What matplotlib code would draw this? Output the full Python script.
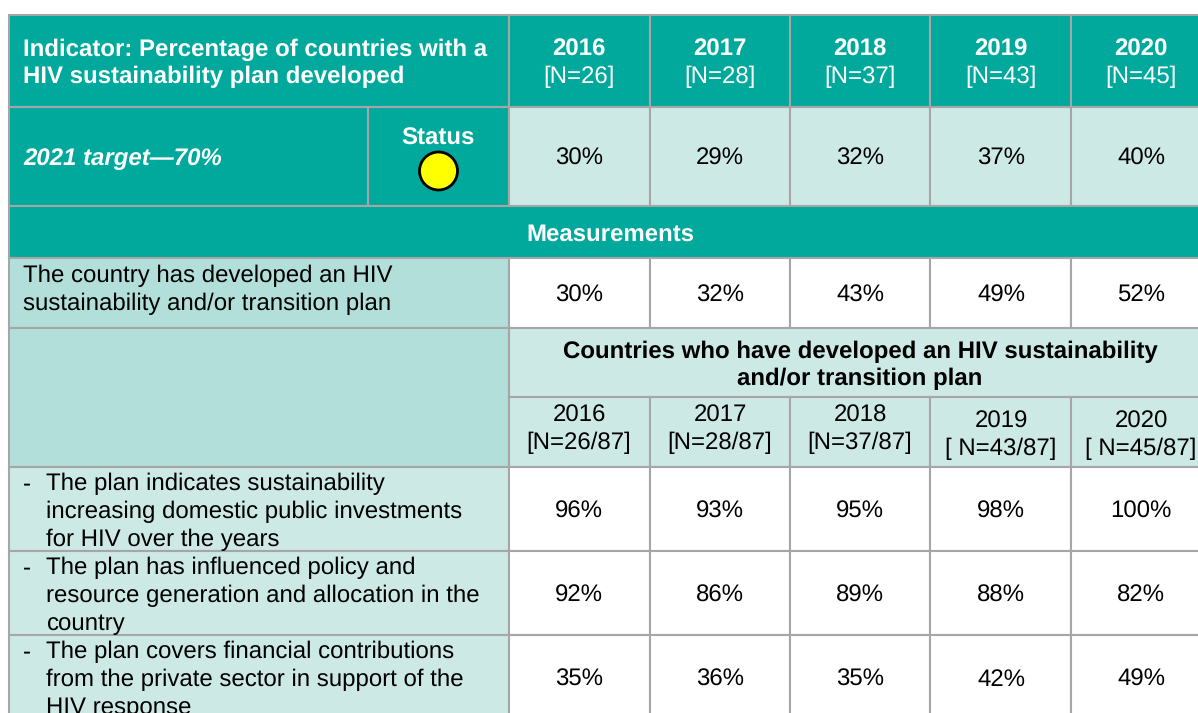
import matplotlib
matplotlib.use("Agg")
import matplotlib.pyplot as plt
from matplotlib.patches import Rectangle, Ellipse

plt.rcParams['font.family'] = ['Liberation Sans', 'DejaVu Sans']
plt.rcParams['text.hinting'] = 'no_hinting'
plt.rcParams['text.hinting_factor'] = 1

years = ['2016', '2017', '2018', '2019', '2020']
n_labels = ['[N=26]', '[N=28]', '[N=37]', '[N=43]', '[N=45]']
sub_labels = ['[N=26/87]', '[N=28/87]', '[N=37/87]', '[ N=43/87]', '[ N=45/87]']
overall = ['30%', '29%', '32%', '37%', '40%']
developed = ['30%', '32%', '43%', '49%', '52%']
row_a = ['96%', '93%', '95%', '98%', '100%']
row_b = ['92%', '86%', '89%', '88%', '82%']
row_c = ['35%', '36%', '35%', '42%', '49%']
row_a_label = ['The plan indicates sustainability', 'increasing domestic public investments', 'for HIV over the years']
row_b_label = ['The plan has influenced policy and', 'resource generation and allocation in the', 'country']
row_c_label = ['The plan covers financial contributions', 'from the private sector in support of the', 'HIV response']

TEAL, LIGHT, MID, GRID = '#00A99C', '#CCE9E6', '#B2DFDA', '#A6A6A6'
FS = 17.3
xs = [509, 650, 790, 930, 1071, 1215]
centers = [579, 720, 860, 1001, 1141]

fig = plt.figure(figsize=(11.98, 7.13), dpi=100)
ax = fig.add_axes([0, 0, 1, 1])
ax.set_xlim(0, 1198)
ax.set_ylim(713, 0)
ax.axis('off')


def cell(x0, y0, x1, y1, color):
    ax.add_patch(Rectangle((x0, y0), x1 - x0, y1 - y0, facecolor=color, edgecolor=GRID, linewidth=1.5, zorder=1))


def txt(x, y, s, ha='center', color='black', **kw):
    t = ax.text(x, y + 2, s, ha=ha, va='center', color=color, fontsize=kw.pop('fontsize', FS), zorder=3, **kw)
    t.set_clip_on(True)
    return t


# header
cell(9, 15, 509, 107, TEAL)
txt(23, 48, 'Indicator: Percentage of countries with a', ha='left', color='white', fontweight='bold')
txt(23, 75, 'HIV sustainability plan developed', ha='left', color='white', fontweight='bold')
for i, c in enumerate(centers):
    cell(xs[i], 15, xs[i + 1], 107, TEAL)
    txt(c, 48, years[i], color='white', fontweight='bold')
    txt(c, 75, n_labels[i], color='white')

# target row
cell(9, 107, 368, 206, TEAL)
cell(368, 107, 509, 206, TEAL)
txt(23, 157, '2021 target—70%', ha='left', color='white', fontweight='bold', fontstyle='italic', fontsize=17.6)
txt(438, 137, 'Status', color='white', fontweight='bold')
ax.add_patch(Ellipse((438.5, 171), 38, 38, facecolor='#FFFF00', edgecolor='black', linewidth=2, zorder=3))
for i, c in enumerate(centers):
    cell(xs[i], 107, xs[i + 1], 206, LIGHT)
    txt(c, 157, overall[i])

# measurements
cell(9, 206, 1215, 258, TEAL)
txt(610, 233, 'Measurements', color='white', fontweight='bold')

# developed row
cell(9, 258, 509, 328, MID)
txt(23, 274, 'The country has developed an HIV', ha='left')
txt(23, 302, 'sustainability and/or transition plan', ha='left')
for i, c in enumerate(centers):
    cell(xs[i], 258, xs[i + 1], 328, 'white')
    txt(c, 294, developed[i])

# sub-header
cell(9, 328, 509, 467, MID)
cell(509, 328, 1215, 397, LIGHT)
txt(860, 350, 'Countries who have developed an HIV sustainability', fontweight='bold')
txt(860, 377, 'and/or transition plan', fontweight='bold')
for i, c in enumerate(centers):
    cell(xs[i], 397, xs[i + 1], 467, LIGHT)
    off = 6 if i >= 3 else 0
    txt(c, 414 + off, years[i])
    txt(c, 441 + off, sub_labels[i])

# detail rows
for (y0, y1, label, values) in [(467, 551, row_a_label, row_a),
                                (551, 635, row_b_label, row_b),
                                (635, 730, row_c_label, row_c)]:
    cell(9, y0, 509, y1, LIGHT)
    txt(23, y0 + 15, '-', ha='left')
    for k, line in enumerate(label):
        txt(46.5, y0 + 15 + 27.7 * k, line, ha='left')
    for i, c in enumerate(centers):
        cell(xs[i], y0, xs[i + 1], y1, 'white')
        txt(c, y0 + 43, values[i])

fig.savefig('out.png', dpi=100)
